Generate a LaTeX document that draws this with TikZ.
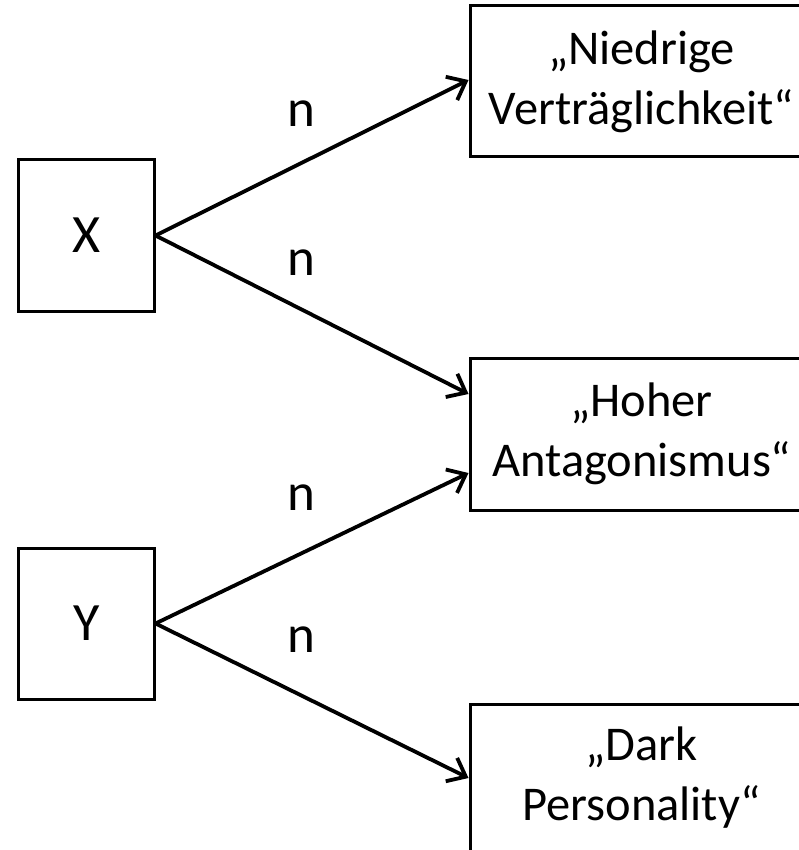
\documentclass[tikz,border=0pt]{standalone}
\usepackage{fontspec}
\setmainfont{Carlito}
\usetikzlibrary{arrows.meta}
\begin{document}
\begin{tikzpicture}[x=1pt,y=-1pt,
  box/.style={draw=black, line width=3pt, inner sep=0pt, align=center,
    minimum width=343pt, minimum height=151pt, font=\fontsize{48.5}{60}\selectfont},
  var/.style={draw=black, line width=3pt, inner sep=0pt,
    minimum width=135.5pt, minimum height=151pt, font=\fontsize{54}{60}\selectfont},
  conn/.style={line width=3.8pt, -{Straight Barb[length=16pt,width=26pt,line width=3.8pt]}},
  lab/.style={anchor=base, inner sep=0pt, font=\fontsize{53}{60}\selectfont}]
\useasboundingbox (0,0) rectangle (799,850);
\clip (0,0) rectangle (799,850);
\node[var] (X) at (86.25,235.5) {X};
\node[var] (Y) at (86.25,623.5) {Y};
\node[box] (A) at (641.5,81.5) {„Niedrige\\Verträglichkeit“};
\node[box, minimum height=152pt] (B) at (641.5,434) {„Hoher\\Antagonismus“};
\node[box, minimum height=148pt] (C) at (641.5,778) {„Dark\\Personality“};
\draw[conn] (X.east) -- ([yshift=1.5pt]A.west);
\draw[conn] (X.east) -- ([yshift=40pt]B.west);
\draw[conn] (Y.east) -- ([yshift=-39pt]B.west);
\draw[conn] (Y.east) -- (C.west);
\node[lab] (n1) at (301,127) {n};
\node[lab] (n2) at (301,275) {n};
\node[lab] (n3) at (301,510) {n};
\node[lab] (n4) at (301,652) {n};
\end{tikzpicture}
\end{document}
